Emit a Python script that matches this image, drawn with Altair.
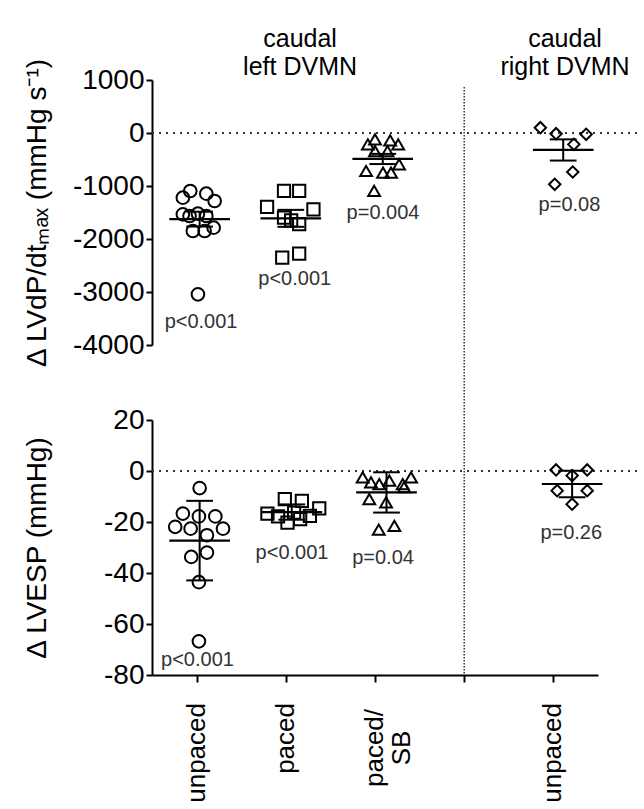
import altair as alt
import pandas as pd

FONT = "Liberation Sans"
INK = "#000000"
GREY = "#333333"

# ---------------- categories ----------------
group_names = ["unpaced", "paced", "paced/SB", "right unpaced"]
group_pos = [0, 1, 2, 4]
group_shapes = ["circle", "square", "triangle-up", "diamond"]
group_sizes = [160, 130, 190, 170]

x_tick_values = [0, 1, 2, 3, 4]
x_label_text = ["unpaced", "paced", "unpaced"]
x_label_pos = [0, 1, 4]
x_label2_text = ["paced/\nSB"]
x_label2_pos = [2]

header_text = ["caudal\nleft DVMN", "caudal\nright DVMN"]
header_pos = [1.16, 4.13]

# ---------------- top panel: LV dP/dt max ----------------
top_title = "Δ LVdP/dtₘₐₓ (mmHg s⁻¹)"
top_ticks = [1000, 0, -1000, -2000, -3000, -4000]
top_domain = [-4000, 1000]
top_values = [
    [-1220, -1094, -1145, -1283, -1522, -1535, -1566, -1566, -1786, -1849, -1849, -3044],
    [-1094, -1094, -1396, -1440, -1598, -1650, -1720, -2352, -2277],
    [-214, -120, -138, -214, -340, -340, -717, -749, -749, -591, -1094],
    [100, -13, -25, -214, -736, -968],
]
top_jitter = [
    [-0.154, -0.071, 0.109, 0.202, 0.015, -0.154, -0.079, 0.109, 0.191, -0.042, 0.09, 0.015],
    [-0.02, 0.15, -0.21, 0.31, -0.02, 0.06, 0.15, -0.04, 0.15],
    [-0.08, 0.0, 0.17, 0.26, 0.0, 0.14, -0.10, 0.09, 0.18, 0.27, -0.01],
    [-0.146, 0.03, 0.367, 0.229, 0.217, 0.015],
]
top_mean = [-1625, -1610, -490, -320]
top_err = [140, 160, 96, 200]          # SEM
top_center = [0.034, 1.056, 2.087, 4.11]
top_p_text = ["p<0.001", "p<0.001", "p=0.004", "p=0.08"]
top_p_x = [0.05, 1.1, 2.09, 4.18]
top_p_y = [-3560, -2760, -1500, -1360]

# ---------------- bottom panel: LVESP ----------------
bot_title = "Δ LVESP (mmHg)"
bot_ticks = [20, 0, -20, -40, -60, -80]
bot_domain = [-80, 20]
bot_values = [
    [-6.7, -16.7, -17.8, -17.8, -21.9, -22.6, -22.6, -25.2, -33.7, -32, -43.6, -66.8],
    [-11, -11.7, -16.7, -17.8, -20.2, -18.9, -17.6, -14.7, -16.3],
    [-2.5, -4.5, -5.1, -3.8, -5.1, -2.5, -6.3, -11, -12.3, -23, -21.5],
    [0.4, 0.4, -1.8, -7.7, -7.7, -13],
]
bot_jitter = [
    [0.034, -0.154, 0.026, 0.21, -0.24, -0.067, 0.296, 0.116, -0.06, 0.116, 0.026, 0.026],
    [-0.011, 0.18, -0.206, -0.087, 0.019, 0.161, 0.27, 0.375, 0.093],
    [-0.138, -0.045, 0.048, 0.161, 0.311, 0.404, 0.326, -0.064, 0.124, 0.042, 0.217],
    [0.03, 0.379, 0.21, 0.042, 0.379, 0.21],
]
bot_mean = [-27.3, -16.1, -8.4, -5.1]
bot_err = [15.6, 3.0, 7.9, 5.2]         # SD
bot_center = [0.034, 1.067, 2.129, 4.21]
bot_p_text = ["p<0.001", "p<0.001", "p=0.04", "p=0.26"]
bot_p_x = [0.01, 1.07, 2.09, 4.2]
bot_p_y = [-74.1, -32, -34.3, -24.5]

W = 446
H_TOP = 265
H_BOT = 255
GAP = 75


def make_panel(values, jitters, means, errs, centers, p_text, p_x, p_y,
               y_domain, y_ticks, y_title, height, sep_top, is_bottom):
    rows = []
    for g, pos, vals, jits in zip(group_names, group_pos, values, jitters):
        for v, j in zip(vals, jits):
            rows.append({"group": g, "x": pos + j, "y": v})
    pts = pd.DataFrame(rows)
    summ = pd.DataFrame({"group": group_names, "center": centers,
                         "mean": means, "err": errs})
    pdf = pd.DataFrame({"text": p_text, "x": p_x, "y": p_y})

    xs = alt.Scale(domain=[-0.5, 4.5], nice=False, zero=False)
    ys = alt.Scale(domain=y_domain, nice=False, zero=False)
    if is_bottom:
        xaxis = alt.Axis(values=x_tick_values, labels=False, title=None, grid=False,
                         domainColor=INK, domainWidth=2, tickColor=INK,
                         tickWidth=2, tickSize=7)
    else:
        xaxis = None
    yaxis = alt.Axis(values=y_ticks, labelExpr="datum.value + ''", title=y_title,
                     grid=False, domainColor=INK, domainWidth=2, tickColor=INK,
                     tickWidth=2, tickSize=6, labelPadding=2, labelFont=FONT,
                     labelFontSize=28, labelColor=INK, titleFont=FONT,
                     titleFontSize=28, titleFontWeight="normal", titleColor=INK,
                     titleX=-107, titleBaseline="alphabetic")

    def X(f):
        return alt.X(f, type="quantitative", scale=xs, axis=xaxis)

    def Y(f):
        return alt.Y(f, type="quantitative", scale=ys, axis=yaxis)

    zero = alt.Chart(pd.DataFrame({"y": [0]})).mark_rule(
        strokeDash=[2, 5], strokeWidth=2, color=GREY
    ).encode(y=Y("y"), x=alt.value(0), x2=alt.value(485))

    sep = alt.Chart(pd.DataFrame({"x": [3]})).mark_rule(
        strokeDash=[1.5, 1.5], strokeWidth=1.5, color=GREY
    ).encode(x=X("x"), y=alt.value(sep_top), y2=alt.value(height))

    points = alt.Chart(pts).mark_point(
        filled=False, strokeWidth=2, opacity=1, color=INK
    ).encode(
        x=X("x"), y=Y("y"),
        shape=alt.Shape("group:N", scale=alt.Scale(domain=group_names, range=group_shapes), legend=None),
        size=alt.Size("group:N", scale=alt.Scale(domain=group_names, range=group_sizes), legend=None),
    )

    mean_line = alt.Chart(summ).transform_calculate(
        xa="datum.center - 0.34", xb="datum.center + 0.34"
    ).mark_rule(strokeWidth=2.2, color=INK).encode(x=X("xa"), x2="xb", y=Y("mean"))

    err_line = alt.Chart(summ).transform_calculate(
        lo="datum.mean - datum.err", hi="datum.mean + datum.err"
    ).mark_rule(strokeWidth=2, color=INK).encode(x=X("center"), y=Y("lo"), y2="hi")

    cap_hi = alt.Chart(summ).transform_calculate(
        ca="datum.center - 0.15", cb="datum.center + 0.15", hi="datum.mean + datum.err"
    ).mark_rule(strokeWidth=2, color=INK).encode(x=X("ca"), x2="cb", y=Y("hi"))

    cap_lo = alt.Chart(summ).transform_calculate(
        ca="datum.center - 0.15", cb="datum.center + 0.15", lo="datum.mean - datum.err"
    ).mark_rule(strokeWidth=2, color=INK).encode(x=X("ca"), x2="cb", y=Y("lo"))

    ptext = alt.Chart(pdf).mark_text(
        font=FONT, fontSize=20, color=GREY, baseline="middle", align="center"
    ).encode(x=X("x"), y=Y("y"), text="text:N")

    layers = [zero, sep, points, mean_line, err_line, cap_hi, cap_lo, ptext]

    if is_bottom:
        lab1 = alt.Chart(pd.DataFrame({"text": x_label_text, "x": x_label_pos})).mark_text(
            font=FONT, fontSize=26, color=INK, angle=270, align="right", baseline="middle"
        ).encode(x=X("x"), y=alt.value(height + 28), text="text:N")
        lab2 = alt.Chart(pd.DataFrame({"text": x_label2_text, "x": x_label2_pos})).mark_text(
            font=FONT, fontSize=26, color=INK, angle=270, align="center", baseline="middle",
            lineBreak="\n", lineHeight=27
        ).encode(x=X("x"), y=alt.value(height + 73), text="text:N")
        layers += [lab1, lab2]
    else:
        head = alt.Chart(pd.DataFrame({"text": header_text, "x": header_pos})).mark_text(
            font=FONT, fontSize=25, color=INK, align="center", baseline="alphabetic",
            lineBreak="\n", lineHeight=28
        ).encode(x=X("x"), y=alt.value(-33), text="text:N")
        anchor = alt.Chart(pd.DataFrame({"a": [0]})).mark_rule(opacity=0).encode(
            x=alt.value(-152), x2=alt.value(-151), y=alt.value(-80), y2=alt.value(-79)
        )
        layers += [head, anchor]

    return alt.layer(*layers).properties(width=W, height=height)


top = make_panel(top_values, top_jitter, top_mean, top_err, top_center,
                 top_p_text, top_p_x, top_p_y, top_domain, top_ticks, top_title,
                 H_TOP, 7, False)
bottom = make_panel(bot_values, bot_jitter, bot_mean, bot_err, bot_center,
                    bot_p_text, bot_p_x, bot_p_y, bot_domain, bot_ticks, bot_title,
                    H_BOT, -GAP, True)

chart = alt.vconcat(top, bottom, spacing=GAP, bounds="flush").properties(
    padding={"left": 0, "top": 0, "right": 0, "bottom": 0},
    background="white",
).configure_view(stroke=None, strokeWidth=0)

chart.save("out.html", embed_options={"renderer": "svg", "actions": False})
